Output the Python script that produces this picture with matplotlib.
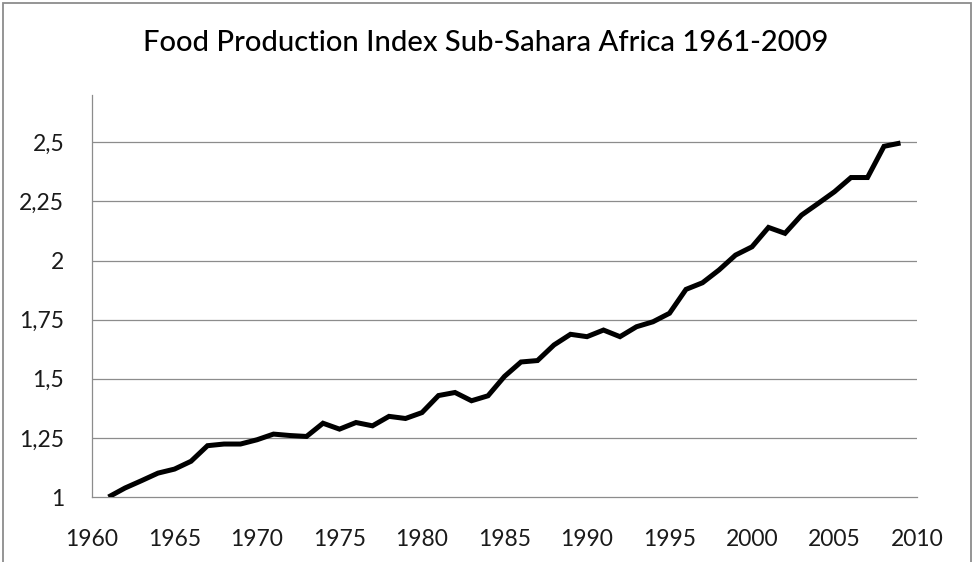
import matplotlib
matplotlib.use("Agg")
import matplotlib.pyplot as plt
from matplotlib.patches import Rectangle

# === Data ===
years = list(range(1961, 2010))
index_values = [
    1.000, 1.038, 1.069, 1.101, 1.118, 1.151, 1.217, 1.224, 1.224, 1.242,
    1.266, 1.260, 1.256, 1.312, 1.287, 1.315, 1.301, 1.341, 1.332, 1.357,
    1.429, 1.442, 1.407, 1.428, 1.510, 1.571, 1.577, 1.643, 1.688, 1.678,
    1.706, 1.678, 1.720, 1.741, 1.777, 1.878, 1.906, 1.960, 2.023, 2.058,
    2.140, 2.115, 2.192, 2.241, 2.291, 2.351, 2.351, 2.483, 2.497,
]
x_ticks = [1960, 1965, 1970, 1975, 1980, 1985, 1990, 1995, 2000, 2005, 2010]
y_ticks = [1.0, 1.25, 1.5, 1.75, 2.0, 2.25, 2.5]
y_labels = ["1", "1,25", "1,5", "1,75", "2", "2,25", "2,5"]
title = "Food Production Index Sub-Sahara Africa 1961-2009"

plt.rcParams['font.family'] = ['Lato', 'DejaVu Sans']

fig = plt.figure(figsize=(9.73, 5.62), dpi=100)
ax = fig.add_axes([92 / 973, 1 - 497 / 562, (917 - 92) / 973, (497 - 95) / 562])

grid_col = '#8c8c8c'

# chart border (bottom edge runs off the image)
fig.patches.append(Rectangle((3 / 973, -0.05), (971 - 3) / 973, 1.05 - 3 / 562,
                             transform=fig.transFigure, fill=False,
                             edgecolor='#8c8c8c', linewidth=1.3))

ax.plot(years, index_values, color='black', linewidth=3.6,
        solid_joinstyle='miter', solid_capstyle='butt', zorder=3)

ax.set_xlim(1960, 2010)
ax.set_ylim(1.0, 2.7)
ax.set_xticks(x_ticks)
ax.set_yticks(y_ticks)
ax.set_yticklabels(y_labels)

for y in y_ticks[1:]:
    ax.axhline(y, color=grid_col, linewidth=0.9, zorder=1)

for side in ['top', 'right']:
    ax.spines[side].set_visible(False)
for side in ['left', 'bottom']:
    ax.spines[side].set_color(grid_col)
    ax.spines[side].set_linewidth(0.9)

ax.tick_params(axis='both', length=0, labelsize=16.5, colors='#1a1a1a')
ax.tick_params(axis='y', pad=20)
ax.tick_params(axis='x', pad=23)
for lbl in ax.get_yticklabels():
    lbl.set_horizontalalignment('right')

fig.text(486 / 973, 1 - 43 / 562, title, ha='center', va='center',
         fontsize=21, color='black', fontweight='medium')

fig.savefig('out.png', dpi=100)
